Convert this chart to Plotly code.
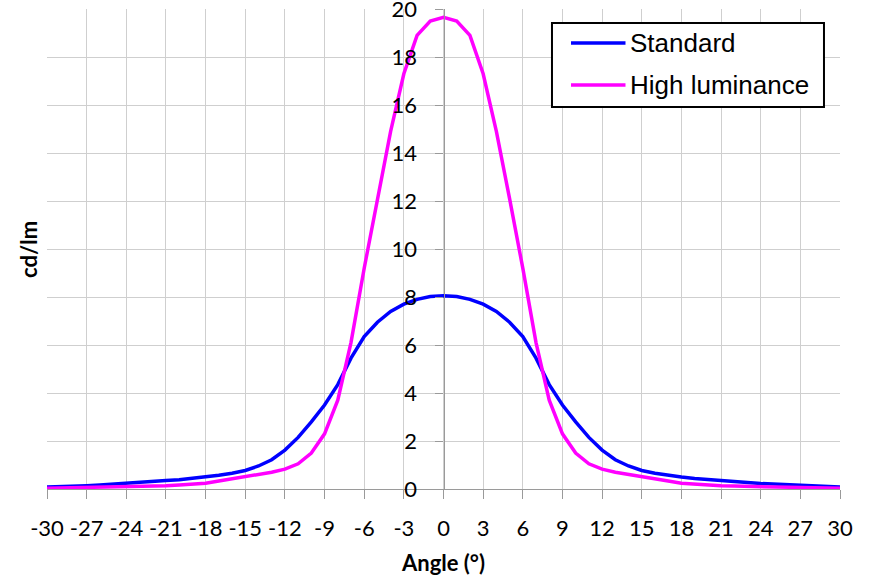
import plotly.graph_objects as go

angles = list(range(-30, 31))

standard_right = [8.05, 8.02, 7.9, 7.7, 7.4, 6.95, 6.35, 5.45, 4.35, 3.5, 2.8,
                  2.15, 1.62, 1.22, 0.96, 0.77, 0.66, 0.57, 0.5, 0.44, 0.39,
                  0.35, 0.31, 0.27, 0.23, 0.2, 0.17, 0.14, 0.11, 0.09, 0.08]
high_right = [19.65, 19.5, 18.9, 17.3, 14.9, 12.1, 9.2, 6.1, 3.7, 2.3, 1.5,
              1.05, 0.83, 0.7, 0.6, 0.5, 0.42, 0.33, 0.24, 0.2, 0.17,
              0.14, 0.12, 0.11, 0.1, 0.08, 0.07, 0.06, 0.05, 0.04, 0.03]

standard = standard_right[:0:-1] + standard_right
high_luminance = high_right[:0:-1] + high_right

series_names = ["Standard", "High luminance"]
series_colors = ["#0000FF", "#FF00FF"]

x_ticks = list(range(-30, 31, 3))
y_ticks = list(range(0, 21, 2))

fig = go.Figure()
for name, vals, col in zip(series_names, [standard, high_luminance], series_colors):
    fig.add_trace(go.Scatter(x=angles, y=vals, mode="lines", name=name,
                             line=dict(color=col, width=3.5), showlegend=False))

tick_font = dict(family="Lato, Calibri, sans-serif", size=22, color="#000000")

fig.update_layout(
    width=871, height=579,
    margin=dict(l=47, r=31, t=9, b=90),
    paper_bgcolor="white", plot_bgcolor="white",
    xaxis=dict(range=[-30, 30], tickvals=x_ticks, ticktext=[str(v) for v in x_ticks],
               showgrid=True, gridcolor="#cfcfcf", gridwidth=1.3, automargin=False,
               zeroline=False, showline=True, linecolor="#9a9a9a", linewidth=1.3,
               ticks="outside", ticklen=9, tickcolor="#9a9a9a", tickwidth=1.3,
               tickfont=tick_font, ticklabelstandoff=10, ticklabeloverflow="allow",
               title=dict(text="<b>Angle (°)</b>",
                          font=dict(family="Lato, Calibri, sans-serif", size=22, color="#000000"),
                          standoff=16)),
    yaxis=dict(range=[0, 20], tickvals=y_ticks, ticktext=[str(v) for v in y_ticks],
               anchor="free", position=0.5, automargin=False,
               showgrid=True, gridcolor="#cfcfcf", gridwidth=1.3,
               zeroline=False, showline=True, linecolor="#9a9a9a", linewidth=1.3,
               ticks="outside", ticklen=8, tickcolor="#9a9a9a", tickwidth=1.3,
               tickfont=tick_font, ticklabelstandoff=14, ticklabeloverflow="allow"),
)

# y-axis title on the left edge
fig.add_annotation(text="<b>cd/lm</b>", textangle=-90, xref="paper", yref="paper",
                   x=-0.024, y=0.5, xanchor="center", yanchor="middle", showarrow=False,
                   font=dict(family="Lato, Calibri, sans-serif", size=22, color="#000000"))

# legend box
fig.add_shape(type="rect", xref="paper", yref="paper", x0=0.6368, x1=0.9798,
              y0=0.7958, y1=0.9708, line=dict(color="#000000", width=2),
              fillcolor="white", layer="above")
leg_y = [0.929, 0.8417]
for name, col, yy in zip(series_names, series_colors, leg_y):
    fig.add_shape(type="line", xref="paper", yref="paper", x0=0.6608, x1=0.7295,
                  y0=yy, y1=yy, line=dict(color=col, width=3.5), layer="above")
    fig.add_annotation(text=name, xref="paper", yref="paper", x=0.7325, y=yy,
                       xanchor="left", yanchor="middle", showarrow=False,
                       font=dict(family="Liberation Sans, Arial, sans-serif", size=26,
                                 color="#000000"))

fig.write_html("out.html")
